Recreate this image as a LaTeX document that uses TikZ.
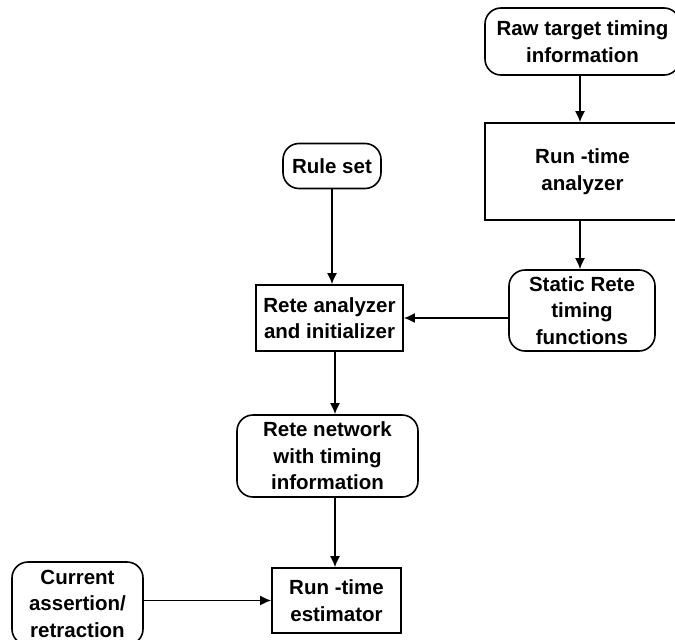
\documentclass[tikz,border=0pt]{standalone}
\usepackage{fontspec}
\setmainfont{Liberation Sans}
\usetikzlibrary{arrows.meta}
\begin{document}
\begin{tikzpicture}[x=1pt,y=-1pt,
  every node/.style={font=\bfseries\fontsize{20.5}{26.5}\selectfont, align=center, inner sep=0pt, line width=1.6pt},
  rbox/.style={draw, rounded corners=16pt},
  sbox/.style={draw},
  conn/.style={line width=1.6pt, -{Latex[length=11pt,width=10pt]}}]
\useasboundingbox (0,0) rectangle (675,640);
\node[rbox, minimum width=195pt, minimum height=67pt] (raw) at (582.5,41.5) {Raw target timing\\information};
\node[sbox, minimum width=195pt, minimum height=97pt] (rta) at (582.5,171.5) {Run -time\\analyzer};
\node[rbox, minimum width=98pt, minimum height=45pt] (rule) at (332,166) {Rule set};
\node[sbox, minimum width=147pt, minimum height=66pt] (rai) at (329.5,318) {Rete analyzer\\and initializer};
\node[rbox, minimum width=146pt, minimum height=81pt] (srt) at (582,310.5) {Static Rete\\timing\\functions};
\node[rbox, minimum width=181pt, minimum height=82pt] (rn) at (327.5,456) {Rete network\\with timing\\information};
\node[sbox, minimum width=129pt, minimum height=65pt] (est) at (336.5,600.5) {Run -time\\estimator};
\node[rbox, minimum width=131pt, minimum height=83pt] (cur) at (77.5,603.5) {Current\\assertion/\\retraction};
\draw[conn] (raw.south -| 580,0) -- (rta.north -| 580,0);
\draw[conn] (rta.south -| 580,0) -- (srt.north -| 580,0);
\draw[conn] (rule.south) -- (rule.south |- rai.north);
\draw[conn] (srt.west |- rai.east) -- (rai.east);
\draw[conn] (rai.south -| 335,0) -- (rn.north -| 335,0);
\draw[conn] (rn.south -| 335,0) -- (est.north -| 335,0);
\draw[conn] (cur.east |- est.west) -- (est.west);
\end{tikzpicture}
\end{document}
